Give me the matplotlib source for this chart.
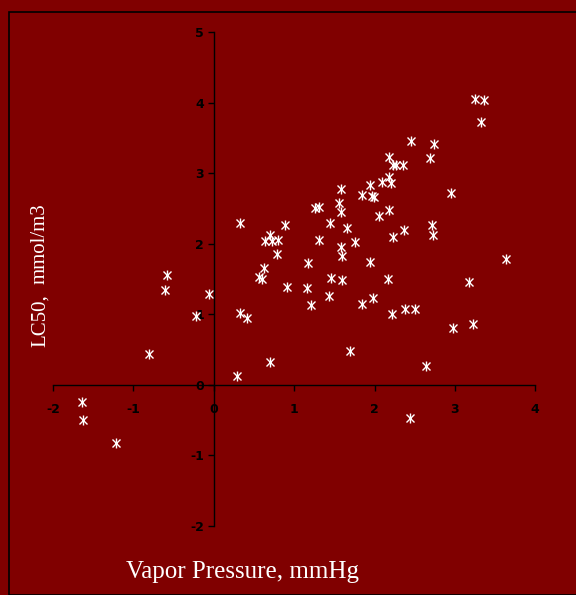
import numpy as np
from matplotlib import pyplot as plt
from matplotlib.patches import Rectangle

# values
vapor = [-1.64, -1.63, -1.22, -0.81, -0.61, -0.58, -0.22, -0.06,
         0.29, 0.33, 0.33, 0.42, 0.70, 0.56, 0.60, 0.63, 0.64, 0.70, 0.73, 0.80, 0.79, 0.89, 0.91,
         1.17, 1.16, 1.21, 1.26, 1.31, 1.31, 1.45, 1.46, 1.43, 1.58, 1.56, 1.58, 1.58, 1.59, 1.60,
         1.66, 1.76, 1.70, 1.84, 1.85, 1.94, 1.95, 1.97, 1.99, 1.98, 2.06,
         2.09, 2.18, 2.18, 2.21, 2.23, 2.27, 2.36, 2.18, 2.17, 2.23, 2.22, 2.37, 2.38, 2.50, 2.64,
         2.44, 2.45, 2.69, 2.74, 2.72, 2.73, 2.95, 2.98, 3.17, 3.22, 3.25, 3.36, 3.32, 3.64]
lc50 = [-0.25, -0.50, -0.82, 0.43, 1.35, 1.56, 0.97, 1.29,
        0.12, 2.30, 1.01, 0.95, 0.32, 1.53, 1.50, 1.65, 2.04, 2.13, 2.04, 2.05, 1.86, 2.26, 1.39,
        1.72, 1.37, 1.13, 2.50, 2.52, 2.05, 2.30, 1.51, 1.26, 2.77, 2.58, 2.45, 1.96, 1.83, 1.48,
        2.22, 2.02, 0.48, 2.69, 1.14, 1.74, 2.83, 2.67, 2.66, 1.23, 2.40,
        2.88, 3.23, 2.95, 2.86, 3.12, 3.12, 3.11, 2.48, 1.50, 2.09, 1.00, 2.20, 1.07, 1.08, 0.26,
        -0.47, 3.45, 3.21, 3.42, 2.27, 2.12, 2.72, 0.81, 1.45, 0.86, 4.05, 4.04, 3.72, 1.79]
xticks = [-2, -1, 0, 1, 2, 3, 4]
yticks = [-2, -1, 0, 1, 2, 3, 4, 5]

bg = '#800000'
W, H = 576, 595

fig = plt.figure(figsize=(W / 100, H / 100), dpi=100, facecolor=bg)
fig.patches.append(Rectangle((8.5 / W, 0), 1.2, 1 - 11.5 / H, transform=fig.transFigure,
                             fill=False, edgecolor='black', linewidth=1.2))

ax = fig.add_axes([52.9 / W, 1 - 525.7 / H, 482.4 / W, 493.5 / H])
ax.set_facecolor(bg)
ax.plot(vapor, lc50, 'x', color='white', ms=6, mew=1)
ax.plot(vapor, lc50, '|', color='white', ms=6.5, mew=1)

ax.set_xlim(-2, 4)
ax.set_ylim(-2, 5)
ax.spines['left'].set_position(('data', 0))
ax.spines['bottom'].set_position(('data', 0))
ax.spines['top'].set_visible(False)
ax.spines['right'].set_visible(False)
for s in ['left', 'bottom']:
    ax.spines[s].set_color('black')
    ax.spines[s].set_linewidth(1.0)

ax.set_xticks(xticks)
ax.set_yticks(yticks)
tickfont = dict(family=['Liberation Sans Narrow', 'DejaVu Sans'], weight='bold', size=9)
ax.set_xticklabels([str(t) for t in xticks], fontdict=tickfont)
ax.set_yticklabels([str(t) for t in yticks], fontdict=tickfont)
ax.tick_params(axis='x', direction='out', length=4, width=1, pad=9, colors='black')
ax.tick_params(axis='y', direction='out', length=4, width=1, pad=3, colors='black')

serif = ['Liberation Serif', 'DejaVu Serif']
fig.text(243 / W, 1 - 578 / H, 'Vapor Pressure, mmHg', color='white', family=serif,
         size=18, ha='center', va='baseline')
fig.text(45 / W, 1 - 347 / H, 'LC50,', color='white', family=serif, size=15,
         rotation=90, rotation_mode='anchor', ha='left', va='baseline')
fig.text(45 / W, 1 - 284 / H, 'mmol/m3', color='white', family=serif, size=15,
         rotation=90, rotation_mode='anchor', ha='left', va='baseline')

plt.savefig('out.png', dpi=100, facecolor=bg)
